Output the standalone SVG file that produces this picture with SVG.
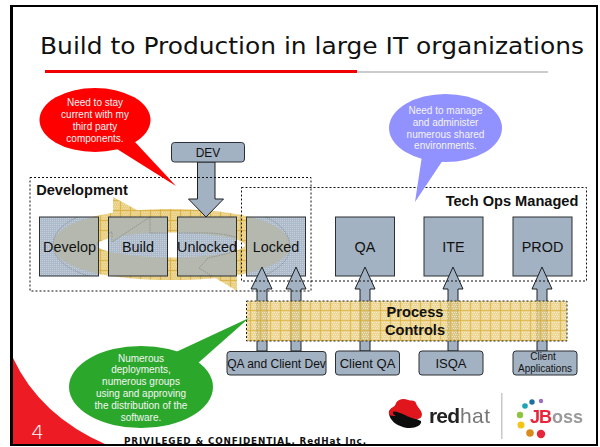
<svg xmlns="http://www.w3.org/2000/svg" width="600" height="447" viewBox="0 0 600 447">
<style>
text{font-family:"Liberation Sans",Arial,sans-serif;fill:#111;text-anchor:middle}
.box{fill:#a2b2c2;stroke:#2b2f33;stroke-width:1}
.dfill{fill:url(#stip)}
.dedge{fill:none;stroke:#2b2f33;stroke-width:1}
.arrow{fill:#a2b2c2;stroke:#1d2125;stroke-width:1}
.ring{fill:url(#plaid)}
.over{fill:#b4b8ae}
.rline{fill:none;stroke:#7a7a7a;stroke-width:.6;stroke-dasharray:1.500 1}
.dash{fill:none;stroke:#111;stroke-width:1;stroke-dasharray:2 2}
.lbl{font-size:14.4px}
.sm{font-size:13px}
.head{font-size:14.6px;font-weight:bold}
.call{font-size:10px;fill:#f4f4f4}
</style>
<defs>
<pattern id="stip" width="2" height="2" patternUnits="userSpaceOnUse">
<rect width="2" height="2" fill="#acbaca"/>
<rect width="1" height="1" fill="#c6d0dc"/>
</pattern>
<pattern id="plaid" width="10" height="10" patternUnits="userSpaceOnUse">
<rect width="10" height="10" fill="#e9cf82"/>
<path d="M2 2h1v1h-1zM4 2h1v1h-1zM6 2h1v1h-1zM8 2h1v1h-1zM3 4h1v1h-1zM5 4h1v1h-1zM7 4h1v1h-1zM2 6h1v1h-1zM4 6h1v1h-1zM6 6h1v1h-1zM8 6h1v1h-1zM3 8h1v1h-1zM5 8h1v1h-1zM7 8h1v1h-1z" fill="#fff" fill-opacity=".3"/>
<rect width="10" height="1" fill="#d8ac3a" fill-opacity=".75"/>
<rect width="1" height="10" fill="#d8ac3a" fill-opacity=".75"/>
</pattern>
<pattern id="pc" width="10" height="10" patternUnits="userSpaceOnUse">
<rect width="10" height="10" fill="#e8cc78" fill-opacity=".8"/>
<path d="M2 2h1v1h-1zM4 2h1v1h-1zM6 2h1v1h-1zM8 2h1v1h-1zM3 4h1v1h-1zM5 4h1v1h-1zM7 4h1v1h-1zM2 6h1v1h-1zM4 6h1v1h-1zM6 6h1v1h-1zM8 6h1v1h-1zM3 8h1v1h-1zM5 8h1v1h-1zM7 8h1v1h-1z" fill="#fff" fill-opacity=".55"/>
<rect width="10" height="1" fill="#d6a826" fill-opacity=".55"/>
<rect width="1" height="10" fill="#d6a826" fill-opacity=".55"/>
</pattern>
<filter id="soft" x="-5%" y="-5%" width="110%" height="110%"><feGaussianBlur stdDeviation=".35"/></filter>
<g id="shape">
<path fill-rule="evenodd" d="M53 245C53 225 95 209 171 209C247 209 290 225 290 245C290 265 247 280 171 280C95 280 53 265 53 245ZM97 245C97 252 135 257.500 171 257.500C207 257.500 245 252 245 245C245 238 207 232.500 171 232.500C135 232.500 97 238 97 245Z"/>
<path d="M113 197L150 217L113 242ZM237 291L199 268L237 250Z"/>
</g>
<g id="lines">
<path class="rline" d="M208 280H120C85 280 53 265 53 245C53 228 75 212 113 209V197L150 217L112 242V232C105 234 97 240 97 245"/>
<path class="rline" d="M150 211H232C268 211 290 228 290 247C290 265 265 280 237 280V291L199 268L208 258C225 254 245 250 245 245C245 238 225 233 205 233H150Z"/>
</g>
<clipPath id="c1"><rect x="39.500" y="217" width="59" height="59"/></clipPath>
<clipPath id="c2"><rect x="108.500" y="217" width="59" height="59"/></clipPath>
<clipPath id="c3"><rect x="177.500" y="217" width="59" height="59"/></clipPath>
<clipPath id="c4"><rect x="246.500" y="217" width="59" height="59"/></clipPath>
</defs>

<rect width="600" height="447" fill="#fff"/>
<path d="M13 358Q40 416 107 445H13Z" fill="#ed1c24"/>
<rect x="11" y="6" width="586" height="439" fill="none" stroke="#000" stroke-width="2"/>
<rect x="10" y="5" width="3" height="441" fill="#000"/>

<text x="312" y="54" style="font-family:'DejaVu Sans',Verdana,sans-serif;font-size:23.5px" textLength="544" lengthAdjust="spacingAndGlyphs">Build to Production in large IT organizations</text>
<rect x="45" y="70" width="312" height="3" fill="#f00000"/>
<rect x="357" y="71.500" width="191" height="1" fill="#999"/>

<g id="cycle" class="ring"><use href="#shape"/></g>

<g id="develop"><rect class="dfill" x="39.500" y="217" width="59" height="59"/><g clip-path="url(#c1)"><use href="#shape" class="over"/><use href="#lines"/></g><rect class="dedge" x="39.500" y="217" width="59" height="59"/><text class="lbl" x="69.500" y="252">Develop</text></g>
<g id="build"><rect class="dfill" x="108.500" y="217" width="59" height="59"/><g clip-path="url(#c2)"><use href="#shape" class="over"/><use href="#lines"/></g><rect class="dedge" x="108.500" y="217" width="59" height="59"/><text class="lbl" x="138" y="252">Build</text></g>
<g id="unlocked"><rect class="dfill" x="177.500" y="217" width="59" height="59"/><g clip-path="url(#c3)"><use href="#shape" class="over"/><use href="#lines"/></g><rect class="dedge" x="177.500" y="217" width="59" height="59"/><text class="lbl" x="207" y="252">Unlocked</text></g>
<g id="locked"><rect class="dfill" x="246.500" y="217" width="59" height="59"/><g clip-path="url(#c4)"><use href="#shape" class="over"/><use href="#lines"/></g><rect class="dedge" x="246.500" y="217" width="59" height="59"/><text class="lbl" x="276" y="252">Locked</text></g>
<g id="qa"><rect class="box" x="335.500" y="217" width="59" height="59"/><text class="lbl" x="365" y="252">QA</text></g>
<g id="ite"><rect class="box" x="424" y="217" width="59" height="59"/><text class="lbl" x="453.500" y="252">ITE</text></g>
<g id="prod"><rect class="box" x="513" y="217" width="59" height="59"/><text class="lbl" x="542.500" y="252">PROD</text></g>

<g id="connectors">
<path class="arrow" d="M197.500 162V199H188.500L206 217L223.500 199H215V162Z"/>
<path class="arrow" d="M257 351V289H251L262 267L272 289H267V351Z"/>
<path class="arrow" d="M291 351V289H286L296 267L306 289H301V351Z"/>
<path class="arrow" d="M360 351V289H355L365 267L375 289H370V351Z"/>
<path class="arrow" d="M448 351V289H443L453 267L463 289H458V351Z"/>
<path class="arrow" d="M537 351V289H532L542 267L552 289H547V351Z"/>
</g>

<rect class="dash" x="30" y="177.500" width="281" height="113.500"/>
<rect class="dash" x="241.500" y="187.500" width="345" height="93.500"/>
<text class="head" x="82" y="195">Development</text>
<text class="head" x="512" y="206">Tech Ops Managed</text>

<g id="dev"><rect class="box" x="171.500" y="142.500" width="73" height="19.500" rx="3"/><text x="208" y="157" style="font-size:12px">DEV</text></g>

<g id="process-controls"><rect x="246.500" y="301" width="320.500" height="40" fill="url(#pc)" stroke="#222" stroke-width="1" stroke-dasharray="2 2"/><text class="head" x="415" y="317">Process</text><text class="head" x="415" y="335">Controls</text></g>

<g id="qa-client-dev"><rect class="box" x="227" y="351.500" width="99" height="23.500" rx="3"/><text x="276.500" y="368" style="font-size:12px">QA and Client Dev</text></g>
<g id="client-qa"><rect class="box" x="335.500" y="351" width="64" height="24" rx="3"/><text class="sm" x="367.500" y="367.500">Client QA</text></g>
<g id="isqa"><rect class="box" x="419" y="351" width="64" height="24" rx="3"/><text class="sm" x="451" y="367.500">ISQA</text></g>
<g id="client-applications"><rect class="box" x="513" y="351" width="64" height="24" rx="3"/><text x="543" y="360" style="font-size:10px">Client</text><text x="545" y="372" style="font-size:10px">Applications</text></g>

<g id="callout-red"><ellipse cx="95" cy="120" rx="55.500" ry="32" fill="#f00"/><path d="M117 149L176 186L135 142Z" fill="#f00"/>
<text class="call" x="95" y="106">Need to stay</text><text class="call" x="95" y="118">current with my</text><text class="call" x="95" y="130">third party</text><text class="call" x="95" y="142">components.</text></g>

<g id="callout-blue"><ellipse cx="445.500" cy="128" rx="56.500" ry="34" fill="#9191ff"/><path d="M422 156L415 202L443 160Z" fill="#9191ff"/>
<text class="call" x="445.500" y="114">Need to manage</text><text class="call" x="445.500" y="126">and administer</text><text class="call" x="445.500" y="138">numerous shared</text><text class="call" x="445.500" y="149">environments.</text></g>

<g id="callout-green"><ellipse cx="141" cy="387" rx="72" ry="41" fill="#2ba82b"/><path d="M176 352L249 318L197 364Z" fill="#2ba82b"/>
<text class="call" x="141" y="362">Numerous</text><text class="call" x="141" y="373">deployments,</text><text class="call" x="141" y="385">numerous groups</text><text class="call" x="141" y="397">using and approving</text><text class="call" x="141" y="409">the distribution of the</text><text class="call" x="141" y="421">software.</text></g>

<text x="37.500" y="439" style="font-family:'DejaVu Sans',sans-serif;font-size:20px;fill:#fff;font-weight:200">4</text>
<text x="245" y="443.500" style="font-family:'DejaVu Sans',sans-serif;font-size:8.800px;font-weight:bold" textLength="242" lengthAdjust="spacing">PRIVILEGED &amp; CONFIDENTIAL. RedHat Inc.</text>

<g id="logos" filter="url(#soft)">
<path d="M389 411C388 420 398 428 410 428C416 428 422 425 421 421L392 408Z" fill="#111"/>
<path d="M389 412C391 406 395 408 396 403C398 399 404 398 408 400C412 401 415 400 416 403C417 407 421 409 422 414C422 419 418 420 412 418C404 415 396 410 393 412C392 414 396 416 396 416C391 416 388 415 389 412Z" fill="#e1171e"/>
<text x="429" y="423" style="font-size:21px;text-anchor:start;font-weight:bold;fill:#222" textLength="31">red</text>
<text x="460" y="423" style="font-size:21px;text-anchor:start;fill:#777" textLength="30">hat</text>
<rect x="501" y="393" width="1.500" height="46" fill="#c8c8c8"/>
<circle cx="541" cy="401" r="2.200" fill="#9b70c4"/><circle cx="532" cy="402" r="2.700" fill="#1f6f9f"/><circle cx="525" cy="406" r="2.800" fill="#1fa3b5"/><circle cx="520" cy="415" r="3.200" fill="#8cc63f"/><circle cx="521" cy="425" r="3.500" fill="#f5c518"/><circle cx="530" cy="433" r="3.800" fill="#d98a1f"/><circle cx="541" cy="434" r="4.200" fill="#e8283a"/>
<text x="530" y="423" style="font-size:18px;text-anchor:start;font-weight:bold;fill:#e8283a" textLength="22">JB</text>
<text x="552" y="423" style="font-size:18px;text-anchor:start;font-weight:bold;fill:#9a9a9a" textLength="31">oss</text>
</g>
</svg>
